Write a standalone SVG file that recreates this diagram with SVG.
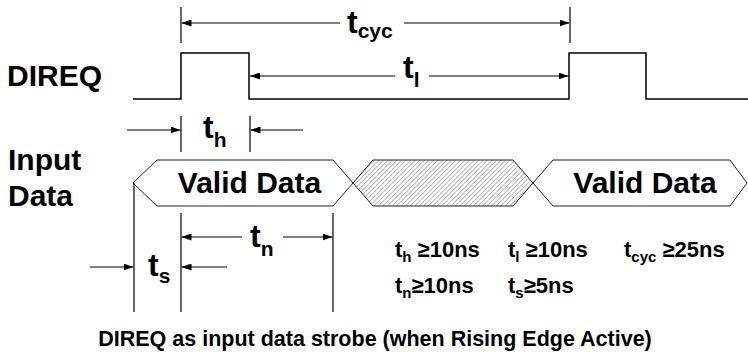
<svg xmlns="http://www.w3.org/2000/svg" width="748" height="356" viewBox="0 0 748 356">
<style>
.sig{fill:none;stroke:#000;stroke-width:1.5}
.dim{fill:none;stroke:#000;stroke-width:1.2}
.arr{fill:none;stroke:#000;stroke-width:1.2;marker-end:url(#ah)}
.hex{fill:#fff;stroke:#222;stroke-width:1}
.lbl{font-family:"Liberation Sans",Arial,sans-serif;font-weight:bold;fill:#000}
.big{font-size:30px}
.t{font-size:32px}
.sub{font-size:21px}
.st{font-size:22px}
.ssub{font-size:15px}
.cap{font-size:21.5px}
</style>
<defs>
<marker id="ah" viewBox="0 0 10 7" refX="10" refY="3.5" markerWidth="10" markerHeight="7" markerUnits="userSpaceOnUse" orient="auto">
<path d="M0,0 L10,3.5 L0,7 z" fill="#000"/>
</marker>
<pattern id="hatch" patternUnits="userSpaceOnUse" width="3.2" height="3.2" patternTransform="rotate(45)">
<rect width="3.2" height="3.2" fill="#fff"/>
<line x1="0.5" y1="0" x2="0.5" y2="3.2" stroke="#999" stroke-width="0.7"/>
</pattern>
</defs>
<rect width="748" height="356" fill="#fff"/>

<g id="labels">
<text class="lbl big" x="7" y="86">DIREQ</text>
<text class="lbl big" x="8" y="170">Input</text>
<text class="lbl big" x="8" y="206">Data</text>
</g>

<g id="direq">
<polyline class="sig" points="133,99 181,99 181,53 249,53 249,99 569,99 569,53 646,53 646,99 748,99"/>
</g>

<g id="data">
<polygon class="hex" points="133,183 157,160 333,160 353,183 333,206 157,206"/>
<polygon class="hex" style="fill:url(#hatch)" points="353,183 373,160 513,160 533,183 513,206 373,206"/>
<polygon class="hex" points="533,183 553,160 730,160 747,183 730,206 553,206"/>
<text class="lbl big" x="249.5" y="193" text-anchor="middle">Valid Data</text>
<text class="lbl big" x="645" y="193" text-anchor="middle">Valid Data</text>
</g>

<g id="connectors">
<line class="dim" x1="181" y1="7" x2="181" y2="43"/>
<line class="dim" x1="570" y1="7" x2="570" y2="43"/>
<line class="arr" x1="340" y1="23" x2="181.5" y2="23"/>
<line class="arr" x1="404" y1="23" x2="569.5" y2="23"/>
<line class="arr" x1="395" y1="76" x2="250" y2="76"/>
<line class="arr" x1="429" y1="76" x2="568.5" y2="76"/>
<line class="dim" x1="181" y1="116" x2="181" y2="152"/>
<line class="dim" x1="250" y1="116" x2="250" y2="152"/>
<line class="arr" x1="127" y1="130" x2="180.5" y2="130"/>
<line class="arr" x1="303" y1="130" x2="250.5" y2="130"/>
<line class="dim" x1="134" y1="183" x2="134" y2="312"/>
<line class="dim" x1="181" y1="213" x2="181" y2="312"/>
<line class="dim" x1="333" y1="213" x2="333" y2="312"/>
<line class="arr" x1="242" y1="237" x2="181.5" y2="237"/>
<line class="arr" x1="283" y1="237" x2="332.5" y2="237"/>
<line class="arr" x1="90" y1="267" x2="133.5" y2="267"/>
<line class="arr" x1="227" y1="267" x2="181.5" y2="267"/>
</g>

<g id="dim-labels">
<text class="lbl" x="347" y="33"><tspan class="t">t</tspan><tspan class="sub" dy="5">cyc</tspan></text>
<text class="lbl" x="403" y="78"><tspan class="t">t</tspan><tspan class="sub" dy="9">l</tspan></text>
<text class="lbl" x="203" y="138"><tspan class="t">t</tspan><tspan class="sub" dy="9">h</tspan></text>
<text class="lbl" x="250" y="247"><tspan class="t">t</tspan><tspan class="sub" dy="9">n</tspan></text>
<text class="lbl" x="148" y="276"><tspan class="t">t</tspan><tspan class="sub" dy="7">s</tspan></text>
</g>

<g id="specs">
<text class="lbl" x="395" y="257"><tspan class="st">t</tspan><tspan class="ssub" dy="5">h</tspan><tspan class="st" dy="-5"> ≥10ns</tspan></text>
<text class="lbl" x="508" y="257"><tspan class="st">t</tspan><tspan class="ssub" dy="5">l</tspan><tspan class="st" dy="-5"> ≥10ns</tspan></text>
<text class="lbl" x="624" y="257"><tspan class="st">t</tspan><tspan class="ssub" dy="5">cyc</tspan><tspan class="st" dy="-5"> ≥25ns</tspan></text>
<text class="lbl" x="395" y="293"><tspan class="st">t</tspan><tspan class="ssub" dy="5">n</tspan><tspan class="st" dy="-5">≥10ns</tspan></text>
<text class="lbl" x="508" y="293"><tspan class="st">t</tspan><tspan class="ssub" dy="5">s</tspan><tspan class="st" dy="-5">≥5ns</tspan></text>
</g>

<g id="caption">
<text class="lbl cap" x="375" y="346" text-anchor="middle">DIREQ as input data strobe (when Rising Edge Active)</text>
</g>
</svg>
